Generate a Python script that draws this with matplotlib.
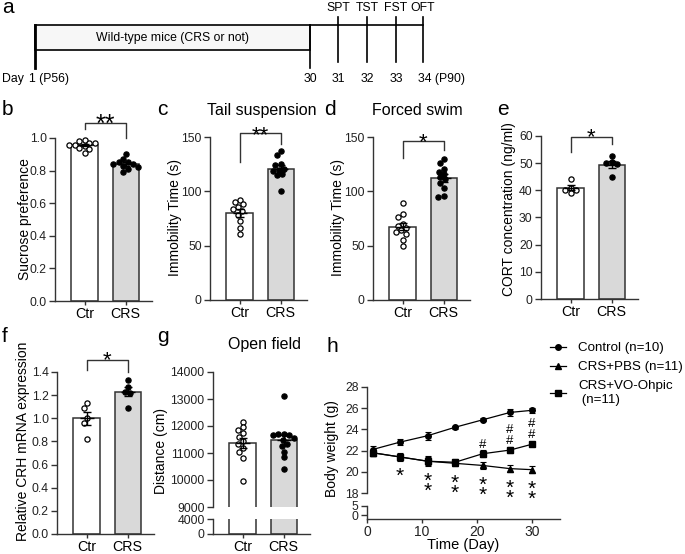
import numpy as np
import matplotlib

matplotlib.use("Agg")
import matplotlib.pyplot as plt
from matplotlib.lines import Line2D
from matplotlib.patches import Rectangle

plt.rcParams["font.family"] = ["Liberation Sans", "DejaVu Sans"]

W, H = 685, 554
INK = "#333333"
GREY = "#d9d9d9"

# ---- data -------------------------------------------------------------
groups = ["Ctr", "CRS"]

sucrose_ctr = [0.99, 0.98, 0.97, 0.97, 0.96, 0.96, 0.95, 0.94, 0.93, 0.91]
sucrose_crs = [0.90, 0.87, 0.85, 0.85, 0.84, 0.84, 0.83, 0.82, 0.81, 0.79]

tail_ctr = [92, 90, 88, 86, 84, 82, 78, 73, 66, 61]
tail_crs = [137, 133, 125, 124, 121, 120, 119, 116, 115, 100]

swim_ctr = [89, 79, 76, 70, 68, 66, 64, 63, 61, 55, 50]
swim_crs = [130, 126, 121, 118, 116, 113, 111, 108, 103, 96, 95]

cort_ctr = [44.2, 41.0, 40.3, 39.0, 40.0]
cort_crs = [52.5, 50.3, 50.0, 49.6, 45.0]

crh_ctr = [1.13, 1.09, 1.00, 0.96, 0.82]
crh_crs = [1.33, 1.27, 1.23, 1.22, 1.09]

field_ctr = [12150, 11950, 11850, 11750, 11600, 11450, 11350, 11200, 11050, 10800, 9950]
field_crs = [13100, 11700, 11700, 11650, 11650, 11550, 11500, 11350, 11250, 11050, 10850, 10400]

days = [1, 6, 11, 16, 21, 26, 30]
weight_control = [22.1, 22.8, 23.4, 24.2, 24.9, 25.6, 25.8]
weight_control_sem = [0.3, 0.25, 0.4, 0.15, 0.15, 0.3, 0.25]
weight_pbs = [21.8, 21.4, 21.0, 20.8, 20.6, 20.3, 20.2]
weight_pbs_sem = [0.3, 0.35, 0.45, 0.3, 0.35, 0.35, 0.35]
weight_vo = [21.8, 21.4, 21.0, 20.9, 21.7, 22.05, 22.6]
weight_vo_sem = [0.25, 0.3, 0.35, 0.3, 0.35, 0.3, 0.2]
series_labels = ["Control (n=10)", "CRS+PBS (n=11)", "CRS+VO-Ohpic\n (n=11)"]
star_counts = [0, 1, 2, 2, 2, 2, 2]  # under CRS+PBS
hash_counts = [0, 0, 0, 0, 1, 2, 2]  # above CRS+VO-Ohpic

timeline_days = ["1 (P56)", "30", "31", "32", "33", "34 (P90)"]
tests = ["SPT", "TST", "FST", "OFT"]

fig = plt.figure(figsize=(W / 100, H / 100), dpi=100)


def px_axes(left, top, right, bottom):
    return fig.add_axes([left / W, 1 - bottom / H, (right - left) / W, (bottom - top) / H])


def prism(ax):
    for s in ("top", "right"):
        ax.spines[s].set_visible(False)
    for s in ("left", "bottom"):
        ax.spines[s].set_color(INK)
        ax.spines[s].set_linewidth(1.0)
    ax.tick_params(direction="out", length=4, width=1.0, color=INK, labelsize=8.8, pad=2, labelcolor="#222222")
    ax.patch.set_alpha(0)


def swarm(vals, px_per_unit, px_per_x=41.0, diam=5.4):
    placed, offs = [], []
    cands = sorted(np.arange(-30, 30.25, 0.5), key=abs)
    for v in vals:
        y = v * px_per_unit
        for c in cands:
            if all((c - px) ** 2 + (y - py) ** 2 >= diam**2 for px, py in placed):
                break
        placed.append((c, y))
        offs.append(c / px_per_x)
    return np.array(offs)


def mark(ax, x, y, text, size, dy_px, center=0.59):
    # place glyph centre dy_px above (x, y)
    ax.annotate(text, (x, y), xytext=(0, dy_px * 0.72 - center * size), textcoords="offset points",
                ha="center", va="baseline", fontsize=size, annotation_clip=False)


def bars(ax, ctr, crs, height_px, ylim, scatter=True):
    data = [np.asarray(ctr, float), np.asarray(crs, float)]
    means = [d.mean() for d in data]
    sems = [d.std(ddof=1) / np.sqrt(len(d)) for d in data]
    ax.bar([0, 1], means, width=0.64, color=["white", GREY], edgecolor=INK, linewidth=1.1, zorder=1)
    ax.set_xlim(-0.72, 1.64)
    ax.set_ylim(*ylim)
    if not scatter:
        return
    ppu = height_px / (ylim[1] - ylim[0])
    for i, d in enumerate(data):
        ax.scatter(i + swarm(d, ppu), d, s=14, facecolor="white" if i == 0 else "black",
                   edgecolor="black", linewidth=0.9, zorder=3, clip_on=False)
        ax.errorbar(i, means[i], yerr=sems[i], fmt="none", ecolor="black", elinewidth=1.0,
                    capsize=3, capthick=1.0, zorder=4)
        ax.hlines(means[i], i - 0.17, i + 0.17, color="black", lw=1.0, zorder=4)


def cats(ax):
    ax.set_xticks([0, 1])
    ax.set_xticklabels(groups, fontsize=10.3)
    ax.tick_params(axis="x", length=3, pad=1, labelcolor="black")


def bracket(ax, top, left_end, right_end, label, size=16, lift=6):
    ax.plot([0, 0, 1, 1], [left_end, top, top, right_end], color=INK, lw=1.0, clip_on=False)
    mark(ax, 0.5, top, label, size, lift)


def ticks(ax, values, fmt):
    ax.set_yticks(values)
    ax.set_yticklabels([fmt.format(v) for v in values])


# ---- a: timeline -------------------------------------------------------
ax_a = fig.add_axes([0, 0, 1, 1])
ax_a.set_xlim(0, W)
ax_a.set_ylim(H, 0)
ax_a.axis("off")
day_x = [35, 310, 338, 367, 396, 423]
ax_a.add_patch(Rectangle((35, 25), 275, 25, facecolor="#f7f7f7", edgecolor="black", lw=1.2))
ax_a.plot([35, 35], [25, 68], color="black", lw=2.0)
ax_a.plot([310, 310], [25, 68], color="black", lw=1.2)
ax_a.plot([310, 423], [25, 25], color="black", lw=1.2)
for x in day_x[2:]:
    ax_a.plot([x, x], [17, 62], color="black", lw=1.2)
for x, t in zip(day_x[2:], tests):
    ax_a.text(x, 8, t, ha="center", va="center", fontsize=8.8)
ax_a.text(2, 79, "Day", ha="left", va="center", fontsize=8.8)
ax_a.text(29, 79, timeline_days[0], ha="left", va="center", fontsize=8.8)
for x, t in zip(day_x[1:-1], timeline_days[1:-1]):
    ax_a.text(x, 79, t, ha="center", va="center", fontsize=8.8)
ax_a.text(418, 79, timeline_days[-1], ha="left", va="center", fontsize=8.8)
ax_a.text(173, 38, "Wild-type mice (CRS or not)", ha="center", va="center", fontsize=8.8)

# ---- b ----------------------------------------------------------------
ax_b = px_axes(55, 138, 152, 301)
prism(ax_b)
bars(ax_b, sucrose_ctr, sucrose_crs, 163, (0, 1.0))
ticks(ax_b, [0, 0.2, 0.4, 0.6, 0.8, 1.0], "{:.1f}")
cats(ax_b)
bracket(ax_b, 1.09, 1.055, 1.0, "**", size=18)

# ---- c ----------------------------------------------------------------
ax_c = px_axes(210, 137, 307, 300)
prism(ax_c)
bars(ax_c, tail_ctr, tail_crs, 163, (0, 150))
ticks(ax_c, [0, 50, 100, 150], "{:d}")
cats(ax_c)
bracket(ax_c, 153.5, 127, 144, "**", lift=5)

# ---- d ----------------------------------------------------------------
ax_d = px_axes(373, 137, 470, 300)
prism(ax_d)
bars(ax_d, swim_ctr, swim_crs, 163, (0, 150))
ticks(ax_d, [0, 50, 100, 150], "{:d}")
cats(ax_d)
bracket(ax_d, 146, 131, 138, "*")

# ---- e ----------------------------------------------------------------
ax_e = px_axes(541, 136, 638, 299)
prism(ax_e)
bars(ax_e, cort_ctr, cort_crs, 163, (0, 60))
ticks(ax_e, [0, 10, 20, 30, 40, 50, 60], "{:d}")
cats(ax_e)
bracket(ax_e, 59.6, 54, 57, "*", lift=7)

# ---- f ----------------------------------------------------------------
ax_f = px_axes(57, 372, 154, 534)
prism(ax_f)
bars(ax_f, crh_ctr, crh_crs, 162, (0, 1.4))
ticks(ax_f, [0, 0.2, 0.4, 0.6, 0.8, 1.0, 1.2, 1.4], "{:.1f}")
cats(ax_f)
bracket(ax_f, 1.5, 1.42, 1.40, "*", lift=7)

# ---- g (broken axis) --------------------------------------------------
ax_g = px_axes(213, 372, 310, 507)
prism(ax_g)
ax_g.spines["bottom"].set_visible(False)
bars(ax_g, field_ctr, field_crs, 135, (9000, 14000))
ticks(ax_g, [9000, 10000, 11000, 12000, 13000, 14000], "{:d}")
ax_g.set_xticks([])
ax_g0 = px_axes(213, 519, 310, 534)
prism(ax_g0)
bars(ax_g0, field_ctr, field_crs, 15, (0, 4000), scatter=False)
ticks(ax_g0, [0, 4000], "{:d}")
cats(ax_g0)

# ---- h: body weight (broken axis) --------------------------------------
ax_h = px_axes(367, 387, 559.5, 493)
prism(ax_h)
ax_h.spines["bottom"].set_visible(False)
ax_h.set_xlim(0, 35)
ax_h.set_ylim(18, 28)
ticks(ax_h, [18, 20, 22, 24, 26, 28], "{:d}")
ax_h.set_xticks([])
markers = ["o", "^", "s"]
sizes = [4.0, 4.5, 4.5]
weights = [(weight_control, weight_control_sem), (weight_pbs, weight_pbs_sem), (weight_vo, weight_vo_sem)]
for (vals, sem), mk, ms in zip(weights, markers, sizes):
    ax_h.errorbar(days, vals, yerr=sem, marker=mk, ms=ms, color="black", lw=0.9, elinewidth=0.8,
                  capsize=2.5, capthick=0.8, clip_on=False, zorder=3)
for d, v, n in zip(days, weight_pbs, star_counts):
    for j in range(n):
        mark(ax_h, d, v, "*", 15, -13 - 10 * j)
for d, v, n in zip(days, weight_vo, hash_counts):
    for j in range(n):
        mark(ax_h, d, v, "#", 9.5, 11 + 10.5 * j, center=0.36)

ax_h0 = px_axes(367, 506, 559.5, 519)
prism(ax_h0)
ax_h0.set_xlim(0, 35)
ax_h0.set_ylim(-2, 5)
ticks(ax_h0, [0, 5], "{:d}")
ax_h0.set_xticks([0, 10, 20, 30])
ax_h0.tick_params(axis="x", labelsize=10, length=3, pad=1)

handles = [Line2D([], [], marker=mk, ms=ms, color="black", lw=0.9) for mk, ms in zip(markers, sizes)]
fig.legend(handles, series_labels, loc="upper left", bbox_to_anchor=(550 / W, 1 - 342 / H),
           frameon=False, fontsize=9.6, handlelength=1.2, handletextpad=0.9, labelspacing=0.5,
           borderpad=0, borderaxespad=0)

# ---- shared text ------------------------------------------------------
for letter, x, y in [("a", 2, 13), ("b", 2, 115), ("c", 157, 115), ("d", 324, 115), ("e", 497, 115),
                     ("f", 2, 342), ("g", 157, 342), ("h", 327, 352)]:
    fig.text(x / W, 1 - y / H, letter, fontsize=15, ha="left", va="baseline")

for t, x, y in [("Tail suspension", 262, 115), ("Forced swim", 417, 115), ("Open field", 265, 349)]:
    fig.text(x / W, 1 - y / H, t, fontsize=11.5, ha="center", va="baseline")

for t, x, y in [("Sucrose preference", 25, 219), ("Immobility Time (s)", 175, 218),
                ("Immobility Time (s)", 338, 218), ("CORT concentration (ng/ml)", 509, 209),
                ("Relative CRH mRNA expression", 23, 441), ("Distance (cm)", 161, 451),
                ("Body weight (g)", 332, 449)]:
    fig.text(x / W, 1 - y / H, t, fontsize=10, rotation=90, ha="center", va="center")

fig.text(463 / W, 1 - 545 / H, "Time (Day)", fontsize=10.5, ha="center", va="center")

fig.savefig("out.png", dpi=100)
